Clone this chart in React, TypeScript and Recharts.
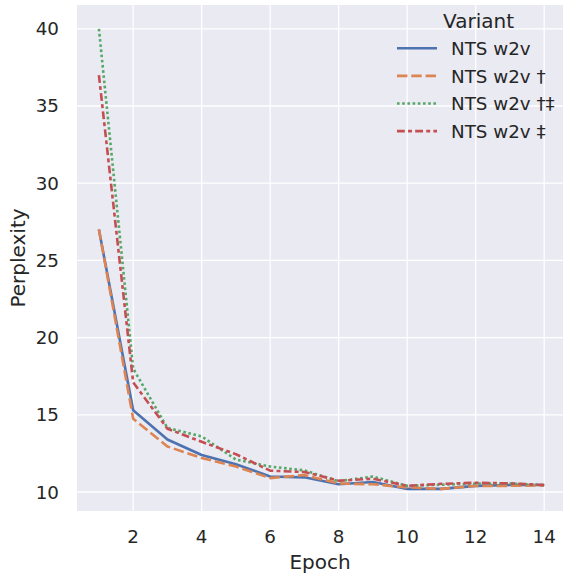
import React from 'react';
import { LineChart, Line, XAxis, YAxis, CartesianGrid, Customized } from 'recharts';

// values
const epochs = [1, 2, 3, 4, 5, 6, 7, 8, 9, 10, 11, 12, 13, 14];
const ntsW2v = [27.0, 15.3, 13.4, 12.4, 11.8, 11.0, 10.95, 10.5, 10.65, 10.2, 10.2, 10.4, 10.45, 10.45];
const ntsW2vDagger = [27.0, 14.75, 12.95, 12.2, 11.65, 10.9, 11.1, 10.55, 10.5, 10.3, 10.2, 10.4, 10.4, 10.43];
const ntsW2vDaggerDD = [40.0, 18.0, 14.15, 13.6, 12.1, 11.65, 11.4, 10.7, 11.0, 10.4, 10.47, 10.55, 10.55, 10.45];
const ntsW2vDD = [37.0, 17.1, 14.1, 13.25, 12.45, 11.38, 11.3, 10.73, 10.86, 10.4, 10.53, 10.6, 10.56, 10.45];

const xTicks = [2, 4, 6, 8, 10, 12, 14];
const yTicks = [10, 15, 20, 25, 30, 35, 40];

const FONT = '"DejaVu Sans", sans-serif';
const INK = '#262626';
const LW = 2.6;

const series = [
  { key: 'a', name: 'NTS w2v', color: '#4c72b0', dash: undefined as string | undefined },
  { key: 'b', name: 'NTS w2v †', color: '#dd8452', dash: '10.4 3.9' },
  { key: 'c', name: 'NTS w2v †‡', color: '#55a868', dash: '2.6 2.6' },
  { key: 'd', name: 'NTS w2v ‡', color: '#c44e52', dash: '7.8 3.25 3.9 3.25' },
];

const data = epochs.map((e, i) => ({
  epoch: e,
  a: ntsW2v[i],
  b: ntsW2vDagger[i],
  c: ntsW2vDaggerDD[i],
  d: ntsW2vDD[i],
}));

const Overlay = () => (
  <g fontFamily={FONT} fill={INK}>
    <text x={320} y={569} fontSize={20} textAnchor="middle">Epoch</text>
    <text x={24.5} y={258} fontSize={20} textAnchor="middle" transform="rotate(-90 24.5 258)">Perplexity</text>
    <text x={478.5} y={27.5} fontSize={20} textAnchor="middle">Variant</text>
    {series.map((s, i) => {
      const cy = 48.3 + i * 27.6;
      return (
        <g key={s.key}>
          <line x1={397} x2={437} y1={cy} y2={cy} stroke={s.color} strokeWidth={LW} strokeDasharray={s.dash} />
          <text x={451} y={cy + 6.6} fontSize={18.3}>{s.name}</text>
        </g>
      );
    })}
  </g>
);

export default function App() {
  return (
    <div style={{ position: 'absolute', left: 0, top: 0, width: 563, height: 573, background: '#fff' }}>
      <LineChart width={563} height={573} data={data} margin={{ top: 5, right: 0, bottom: 0, left: 0 }}>
        <CartesianGrid fill="#eaeaf2" stroke="#ffffff" strokeWidth={1.3} horizontalValues={yTicks} verticalValues={xTicks} />
        <XAxis
          dataKey="epoch"
          type="number"
          domain={[0.36, 14.55]}
          ticks={xTicks}
          allowDataOverflow
          height={62}
          axisLine={false}
          tickLine={false}
          tickSize={6}
          tickMargin={13}
          tick={{ fill: INK, fontSize: 18.3, fontFamily: FONT }}
          interval={0}
        />
        <YAxis
          type="number"
          domain={[8.77, 41.54]}
          ticks={yTicks}
          allowDataOverflow
          width={77}
          axisLine={false}
          tickLine={false}
          tickSize={6}
          tickMargin={12}
          tick={{ fill: INK, fontSize: 18.3, fontFamily: FONT }}
          interval={0}
        />
        {series.map((s) => (
          <Line
            key={s.key}
            dataKey={s.key}
            name={s.name}
            type="linear"
            stroke={s.color}
            strokeWidth={LW}
            strokeDasharray={s.dash}
            strokeLinejoin="round"
            dot={false}
            activeDot={false}
            isAnimationActive={false}
          />
        ))}
        <Customized component={Overlay} />
      </LineChart>
    </div>
  );
}
